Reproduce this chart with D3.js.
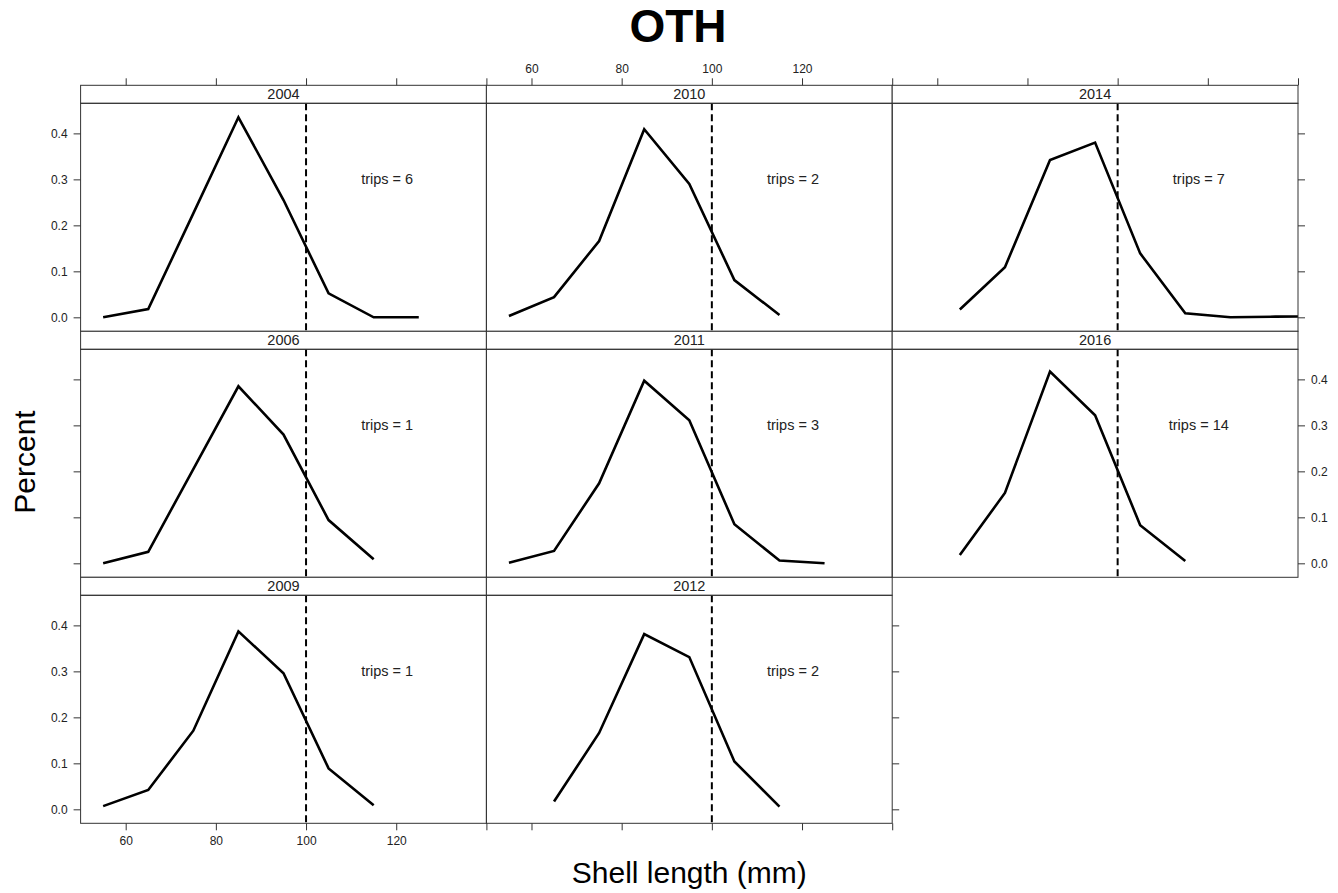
<!DOCTYPE html>
<html>
<head>
<meta charset="utf-8">
<script src="https://cdn.jsdelivr.net/npm/d3@7/dist/d3.min.js"></script>
<style>
  html, body { margin: 0; padding: 0; background: #fff; }
  svg { display: block; font-family: "Liberation Sans", Arial, Helvetica, sans-serif; }
</style>
</head>
<body>
<svg id="chart" width="1338" height="893"></svg>
<script>
// ---------------- data ----------------
const title = "OTH";
const xLabel = "Shell length (mm)";
const yLabel = "Percent";
const years = ["2004", "2006", "2009", "2010", "2011", "2012", "2014", "2016"];
const trips = [6, 1, 1, 2, 3, 2, 7, 14];
const lengthBins = [55, 65, 75, 85, 95, 105, 115, 125, 135, 145];
const pct2004 = [0.000, 0.018, 0.226, 0.435, 0.255, 0.052, 0.000, 0.000, null, null];
const pct2006 = [0.000, 0.025, 0.205, 0.385, 0.280, 0.094, 0.009, null, null, null];
const pct2009 = [0.007, 0.042, 0.171, 0.387, 0.296, 0.089, 0.009, null, null, null];
const pct2010 = [0.003, 0.044, 0.166, 0.409, 0.290, 0.081, 0.005, null, null, null];
const pct2011 = [0.001, 0.027, 0.174, 0.397, 0.311, 0.085, 0.006, 0.000, null, null];
const pct2012 = [null, 0.017, 0.166, 0.381, 0.331, 0.104, 0.006, null, null, null];
const pct2014 = [null, 0.017, 0.109, 0.342, 0.380, 0.139, 0.009, 0.000, 0.0015, 0.002];
const pct2016 = [null, 0.018, 0.153, 0.417, 0.322, 0.083, 0.005, null, null, null];
const seriesValues = [pct2004, pct2006, pct2009, pct2010, pct2011, pct2012, pct2014, pct2016];
const refLength = 100;
const xTicks = [60, 80, 100, 120, 140];
const xTickLabels = ["60", "80", "100", "120", ""];
const yTicks = [0.0, 0.1, 0.2, 0.3, 0.4];
const yTickLabels = ["0.0", "0.1", "0.2", "0.3", "0.4"];
const xDomain = [50, 140];
const yDomain = [-0.0304, 0.4654];
const tripsLabelPos = [118, 0.3];

// ---------------- layout ----------------
const svg = d3.select("#chart");
const nCols = 3, nRows = 3;
const left = 80.6, colW = 405.8;
const top0 = 85.3, stripH = 18, panelH = 228, rowH = stripH + panelH;
const borderCol = "#333";
const textCol = "#222";
const tickLen = 7;

const x = d3.scaleLinear().domain(xDomain);
const y = d3.scaleLinear().domain(yDomain);

function panelGeom(i) {
  const col = Math.floor(i / nRows), row = i % nRows;
  const x0 = left + col * colW;
  const sy = top0 + row * rowH;
  return { col, row, x0, x1: x0 + colW, stripTop: sy, pTop: sy + stripH, pBot: sy + rowH };
}

const occupied = years.map((_, i) => panelGeom(i));
function hasPanel(col, row) { return occupied.some(g => g.col === col && g.row === row); }

const defs = svg.append("defs");

years.forEach((yr, i) => {
  const g = panelGeom(i);
  const xs = x.copy().range([g.x0, g.x1]);
  const ys = y.copy().range([g.pBot, g.pTop]);

  // clip
  defs.append("clipPath").attr("id", "clip" + i)
    .append("rect").attr("x", g.x0).attr("y", g.pTop).attr("width", colW).attr("height", panelH);

  // strip
  svg.append("rect").attr("x", g.x0).attr("y", g.stripTop).attr("width", colW).attr("height", stripH)
    .attr("fill", "#fff").attr("stroke", borderCol).attr("stroke-width", 1);
  svg.append("text").attr("x", (g.x0 + g.x1) / 2).attr("y", g.stripTop + stripH / 2 + 5)
    .attr("text-anchor", "middle").attr("font-size", 14.5).attr("fill", textCol).text(yr);

  const pg = svg.append("g").attr("clip-path", "url(#clip" + i + ")");

  // reference line
  pg.append("line").attr("x1", xs(refLength)).attr("x2", xs(refLength))
    .attr("y1", g.pTop).attr("y2", g.pBot)
    .attr("stroke", "#000").attr("stroke-width", 2).attr("stroke-dasharray", "7,4");

  // data line
  const pts = lengthBins.map((b, k) => [b, seriesValues[i][k]]).filter(d => d[1] !== null);
  const line = d3.line().x(d => xs(d[0])).y(d => ys(d[1]));
  pg.append("path").datum(pts).attr("d", line)
    .attr("fill", "none").attr("stroke", "#000").attr("stroke-width", 2.6)
    .attr("stroke-linejoin", "miter");

  // trips label
  pg.append("text").attr("x", xs(tripsLabelPos[0])).attr("y", ys(tripsLabelPos[1]) + 5)
    .attr("text-anchor", "middle").attr("font-size", 14.5).attr("fill", textCol)
    .text("trips = " + trips[i]);

  // panel border
  svg.append("rect").attr("x", g.x0).attr("y", g.pTop).attr("width", colW).attr("height", panelH)
    .attr("fill", "none").attr("stroke", borderCol).attr("stroke-width", 1);

  // axes
  const fmtX = d => xTickLabels[xTicks.indexOf(d)];
  const fmtY = d => yTickLabels[yTicks.indexOf(d)];
  function styleAxis(sel, showLabels) {
    sel.select(".domain").remove();
    sel.selectAll(".tick line").attr("stroke", borderCol);
    sel.selectAll(".tick text").attr("fill", textCol).attr("font-size", 12)
      .attr("font-family", "Liberation Sans, Arial, sans-serif")
      .style("display", showLabels ? null : "none");
  }
  if (g.row === 0) {
    const a = svg.append("g").attr("transform", `translate(0,${g.stripTop})`)
      .call(d3.axisTop(xs).tickValues(xTicks).tickFormat(fmtX).tickSize(tickLen).tickPadding(5).tickSizeOuter(0));
    styleAxis(a, g.col === 1);
  }
  if (!hasPanel(g.col, g.row + 1) && g.row === nRows - 1) {
    const a = svg.append("g").attr("transform", `translate(0,${g.pBot})`)
      .call(d3.axisBottom(xs).tickValues(xTicks).tickFormat(fmtX).tickSize(tickLen).tickPadding(6).tickSizeOuter(0));
    styleAxis(a, g.col === 0);
  }
  if (g.col === 0) {
    const a = svg.append("g").attr("transform", `translate(${g.x0},0)`)
      .call(d3.axisLeft(ys).tickValues(yTicks).tickFormat(fmtY).tickSize(tickLen).tickPadding(6).tickSizeOuter(0));
    styleAxis(a, g.row !== 1);
  }
  if (!hasPanel(g.col + 1, g.row)) {
    const a = svg.append("g").attr("transform", `translate(${g.x1},0)`)
      .call(d3.axisRight(ys).tickValues(yTicks).tickFormat(fmtY).tickSize(tickLen).tickPadding(6).tickSizeOuter(0));
    styleAxis(a, g.row === 1);
  }
});

// titles
svg.append("text").attr("x", 678).attr("y", 42).attr("text-anchor", "middle")
  .attr("font-size", 46).attr("font-weight", "bold").attr("fill", "#000").text(title);
svg.append("text").attr("x", left + nCols * colW / 2).attr("y", 883).attr("text-anchor", "middle")
  .attr("font-size", 30).attr("fill", "#000").text(xLabel);
svg.append("text").attr("transform", "translate(35,462) rotate(-90)").attr("text-anchor", "middle")
  .attr("font-size", 30).attr("fill", "#000").text(yLabel);
</script>
</body>
</html>
